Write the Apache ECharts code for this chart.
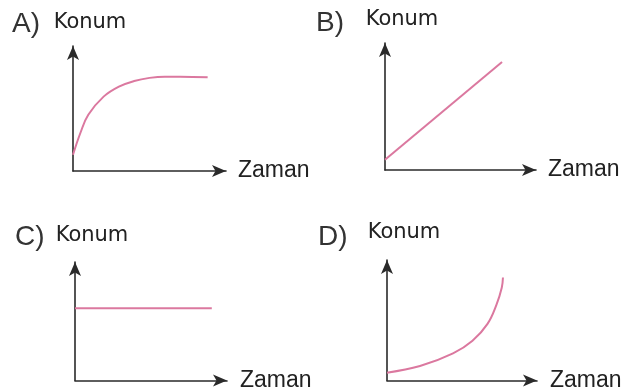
<!DOCTYPE html>
<html>
<head>
<meta charset="utf-8">
<script src="https://cdn.jsdelivr.net/npm/echarts@6/dist/echarts.min.js"></script>
<style>
html, body { margin: 0; padding: 0; background: #fff; }
#main { width: 641px; height: 392px; }
</style>
</head>
<body>
<div id="main"></div>
<script>
// panel letters and axis names
var panelLetters = ['A)', 'B)', 'C)', 'D)'];
var yName = 'Konum';
var xName = 'Zaman';

// A: rises quickly, then levels off
var aX = [0, 0.5, 1, 2, 3, 4, 5, 6, 7, 8.8];
var aY = [1.3, 3.1, 4.5, 5.95, 6.75, 7.2, 7.45, 7.55, 7.55, 7.5];
// B: straight line
var bX = [0, 7.75];
var bY = [0.8, 8.5];
// C: constant
var cX = [0, 9.0];
var cY = [6.1, 6.1];
// D: slow then steep
var dX = [0, 2.2, 4.4, 5.7, 6.7, 7.3, 7.65, 7.73];
var dY = [0.65, 1.2, 2.25, 3.3, 4.7, 6.3, 7.7, 8.55];

var seriesX = [aX, bX, cX, dX];
var seriesY = [aY, bY, cY, dY];
var smoothFlags = [0.4, false, false, 0.4];

var grids = [
	{ left: 73, top: 46, width: 153, height: 125 },
	{ left: 385, top: 43, width: 151, height: 127 },
	{ left: 75, top: 262, width: 152, height: 123 },
	{ left: 387, top: 260, width: 150, height: 124 }
];
// [x, bottom y] of the letter labels
var letterPos = [[12, 38], [316, 37], [15, 251], [318, 251]];
var konumGap = [23, 23, 26, 27];
var zamanGap = [12, 12, 13, 13];
var zamanLift = [14, 12, 18, 20];

var axisColor = '#2a2a2a';
var lineColor = '#db789f';

var chart = echarts.init(document.getElementById('main'));

var xAxes = [], yAxes = [], series = [], graphics = [];
for (var i = 0; i < 4; i++) {
	xAxes.push({
		gridIndex: i,
		type: 'value',
		min: 0,
		max: 10,
		name: xName,
		nameLocation: 'end',
		nameGap: zamanGap[i],
		nameTextStyle: {
			fontFamily: 'Liberation Sans',
			fontSize: 23,
			color: '#222',
			align: 'left',
			verticalAlign: 'middle',
			padding: [0, 0, zamanLift[i], 0]
		},
		axisLine: {
			show: true,
			symbol: ['none', 'arrow'],
			symbolSize: [9, 14],
			lineStyle: { color: axisColor, width: 1.6 }
		},
		axisTick: { show: false },
		axisLabel: { show: false },
		splitLine: { show: false }
	});
	yAxes.push({
		gridIndex: i,
		type: 'value',
		min: 0,
		max: 10,
		name: yName,
		nameLocation: 'end',
		nameGap: konumGap[i],
		nameTextStyle: {
			fontFamily: 'DejaVu Sans',
			fontSize: 21,
			color: '#222',
			align: 'center',
			verticalAlign: 'middle',
			padding: [0, 0, 0, 34]
		},
		axisLine: {
			show: true,
			symbol: ['none', 'arrow'],
			symbolSize: [9, 14],
			lineStyle: { color: axisColor, width: 1.6 }
		},
		axisTick: { show: false },
		axisLabel: { show: false },
		splitLine: { show: false }
	});
	var pts = [];
	for (var j = 0; j < seriesX[i].length; j++) {
		pts.push([seriesX[i][j], seriesY[i][j]]);
	}
	series.push({
		type: 'line',
		xAxisIndex: i,
		yAxisIndex: i,
		data: pts,
		smooth: smoothFlags[i],
		showSymbol: false,
		silent: true,
		lineStyle: { color: lineColor, width: 2 }
	});
	graphics.push({
		type: 'text',
		x: letterPos[i][0],
		y: letterPos[i][1],
		style: {
			text: panelLetters[i],
			font: '28px "Liberation Sans"',
			fill: '#333',
			verticalAlign: 'bottom'
		}
	});
}

var option = {
	backgroundColor: '#fff',
	animation: false,
	grid: grids,
	xAxis: xAxes,
	yAxis: yAxes,
	series: series,
	graphic: graphics
};
chart.setOption(option);
</script>
</body>
</html>
